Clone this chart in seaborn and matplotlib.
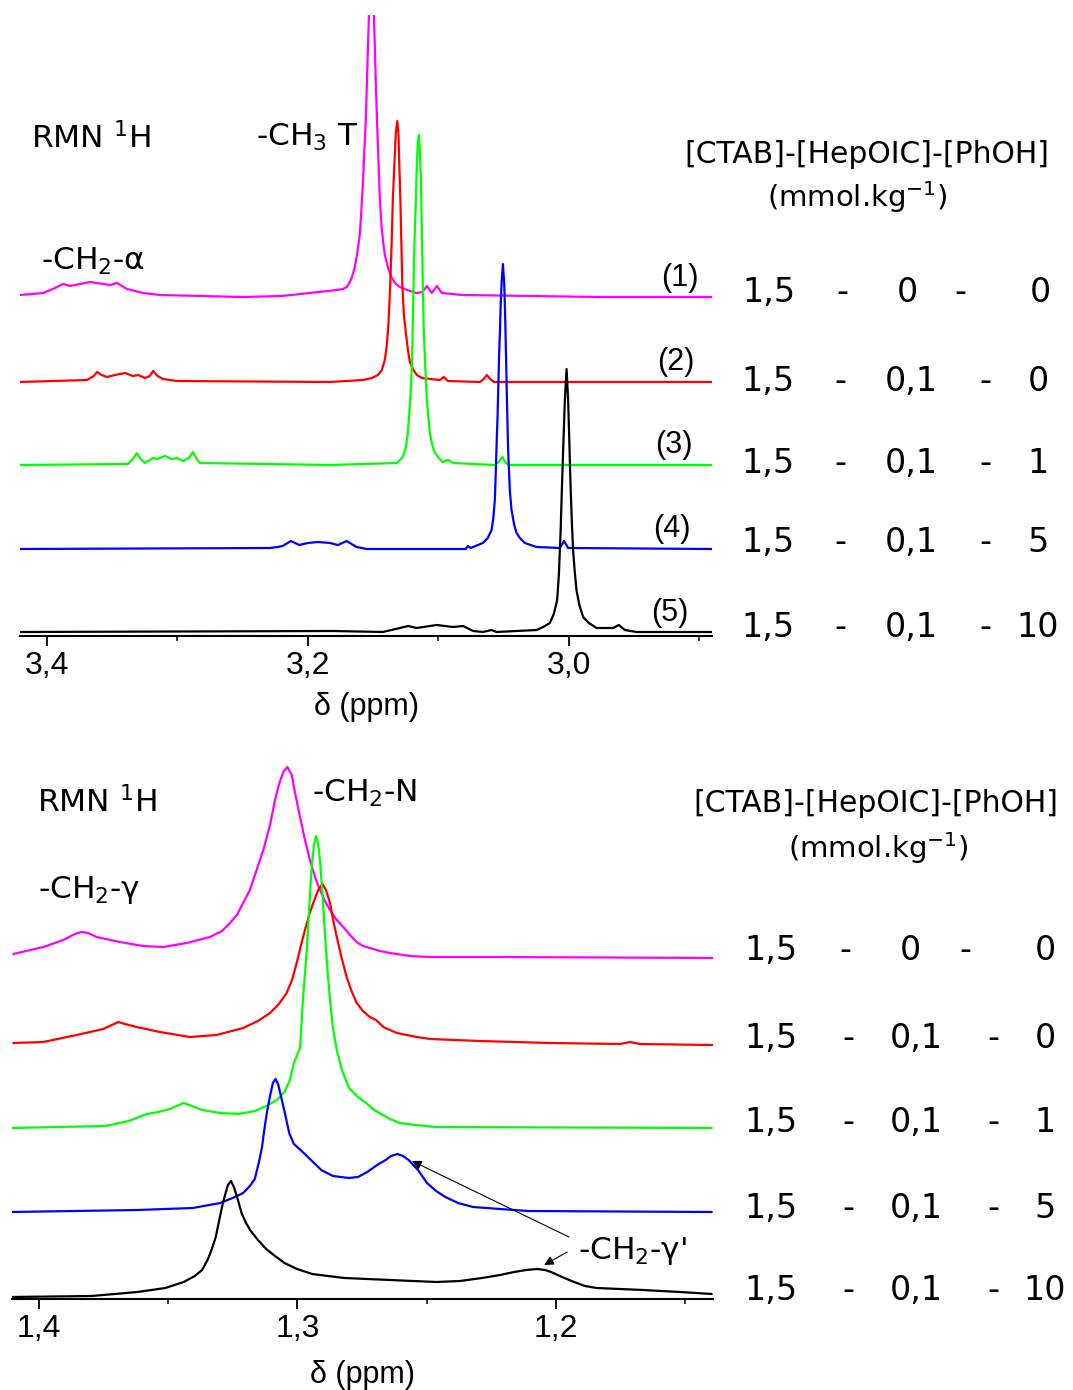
import matplotlib
matplotlib.use("Agg")
import matplotlib.pyplot as plt
import seaborn as sns
import pandas as pd

# sample description (right-hand table)
sample_ids = ["(1)", "(2)", "(3)", "(4)", "(5)"]
ctab = ["1,5", "1,5", "1,5", "1,5", "1,5"]
hepoic = ["0", "0,1", "0,1", "0,1", "0,1"]
phoh = ["0", "0", "1", "5", "10"]
colors = ["#ff00ff", "#ff0000", "#00ff00", "#0000ff", "#000000"]

# ---- top panel: -CH3 T and -CH2-alpha region (ppm / intensity) ----
t1_ppm = [3.4205, 3.4028, 3.3952, 3.3875, 3.3821, 3.3668, 3.3515, 3.3461, 3.3385, 3.3262, 3.3132,
          3.2496, 3.2200, 3.1983, 3.1776, 3.1730, 3.1699, 3.1668, 3.1653, 3.1638, 3.1622, 3.1611,
          3.1599, 3.1588, 3.1576, 3.1565, 3.1553, 3.1546, 3.1538, 3.1530, 3.1519, 3.1503, 3.1492,
          3.1484, 3.1477, 3.1469, 3.1457, 3.1446, 3.1434, 3.1423, 3.1408, 3.1385, 3.1362, 3.1331,
          3.1293, 3.1239, 3.1163, 3.1120, 3.1086, 3.1048, 3.1009, 3.0971, 3.0810, 2.9760, 2.8900]
t1_int = [2, 4, 8, 13, 11, 15, 12, 14, 8, 4, 2,
          0, 1, 4, 7, 8, 10, 17, 23, 30, 42, 52,
          64, 87, 114, 147, 180, 212, 247, 282, 300, 300, 282,
          247, 212, 180, 137, 97, 72, 57, 42, 30, 21, 14,
          10, 7, 4, 5, 11, 4, 11, 4, 2, 0, 0]

t2_ppm = [3.4205, 3.3691, 3.3640, 3.3614, 3.3580, 3.3538, 3.3477, 3.3400, 3.3339, 3.3300, 3.3247,
          3.3210, 3.3185, 3.3150, 3.3109, 3.3001, 3.1829, 3.1576, 3.1507, 3.1461, 3.1431, 3.1408,
          3.1393, 3.1381, 3.1370, 3.1362, 3.1354, 3.1347, 3.1335, 3.1324, 3.1313, 3.1304, 3.1297,
          3.1289, 3.1281, 3.1274, 3.1262, 3.1247, 3.1231, 3.1216, 3.1193, 3.1163, 3.1125, 3.1063,
          3.0985, 3.0956, 3.0925, 3.0680, 3.0650, 3.0626, 3.0600, 3.0572, 2.8900]
t2_int = [0, 2, 6, 10, 7, 5, 7, 9, 6, 7, 4,
          6, 11, 6, 3, 1, 0, 2, 4, 7, 12, 22,
          37, 57, 87, 115, 147, 182, 217, 249, 261, 249, 217,
          182, 137, 97, 67, 49, 32, 20, 13, 7, 4, 3,
          2, 5, 1, 0, 3, 7, 3, 0, 0]

t3_ppm = [3.4205, 3.3377, 3.3340, 3.3310, 3.3280, 3.3247, 3.3185, 3.3155, 3.3093, 3.3040, 3.3001,
          3.2956, 3.2910, 3.2879, 3.2850, 3.2825, 3.1829, 3.1316, 3.1270, 3.1247, 3.1232, 3.1216,
          3.1209, 3.1201, 3.1193, 3.1186, 3.1178, 3.1170, 3.1163, 3.1155, 3.1147, 3.1140, 3.1132,
          3.1124, 3.1117, 3.1109, 3.1097, 3.1086, 3.1074, 3.1063, 3.1044, 3.1025, 3.0994, 3.0964,
          3.0925, 3.0887, 3.0566, 3.0535, 3.0506, 3.0481, 3.0450, 2.8900]
t3_int = [0, 1, 6, 12, 6, 2, 7, 6, 9, 6, 7,
          4, 7, 13, 6, 2, 0, 2, 8, 17, 32, 60,
          75, 98, 145, 198, 235, 265, 300, 323, 330, 315, 285,
          232, 180, 132, 95, 65, 47, 32, 20, 12, 7, 3,
          5, 2, 0, 3, 8, 2, 0, 0]

t4_ppm = [3.4205, 3.2289, 3.2230, 3.2192, 3.2128, 3.2064, 3.1998, 3.1921, 3.1829, 3.1768, 3.1701,
          3.1625, 3.1548, 3.0788, 3.0772, 3.0749, 3.0657, 3.0619, 3.0590, 3.0576, 3.0565, 3.0557,
          3.0549, 3.0544, 3.0538, 3.0532, 3.0526, 3.0520, 3.0513, 3.0503, 3.0493, 3.0486, 3.0480,
          3.0472, 3.0463, 3.0450, 3.0437, 3.0416, 3.0398, 3.0373, 3.0335, 3.0245, 3.0067, 3.0034,
          3.0003, 2.8900]
t4_int = [0, 1, 2, 3, 8, 4, 6, 7, 6, 4, 8,
          2, 0, 0, 3, 1, 6, 11, 19, 31, 49, 79,
          114, 132, 164, 194, 216, 244, 266, 285, 266, 234, 199,
          149, 99, 59, 39, 24, 16, 11, 6, 2, 1, 8,
          1, 0]

t5_ppm = [3.4205, 3.1806, 3.1423, 3.1293, 3.1229, 3.1165, 3.1011, 3.0887, 3.0808, 3.0731, 3.0657,
          3.0590, 3.0552, 3.0245, 3.0194, 3.0143, 3.0113, 3.0087, 3.0074, 3.0061, 3.0051, 3.0041,
          3.0028, 3.0015, 3.0003, 2.9994, 2.9985, 2.9975, 2.9965, 2.9952, 2.9939, 2.9917, 2.9888,
          2.9844, 2.9785, 2.9658, 2.9614, 2.9568, 2.9479, 2.8900]
t5_int = [0, 1, 0, 4, 6, 4, 7, 5, 6, 1, 0,
          2, 0, 2, 5, 9, 18, 32, 57, 99, 142, 182,
          232, 263, 232, 192, 149, 112, 82, 60, 42, 27, 15,
          9, 4, 4, 7, 2, 0, 0]

# ---- bottom panel: -CH2-N and -CH2-gamma region ----
b1_ppm = [1.4099, 1.3983, 1.3906, 1.3861, 1.3835, 1.3810, 1.3777, 1.3687, 1.3597, 1.3519, 1.3429,
          1.3338, 1.3292, 1.3261, 1.3234, 1.3210, 1.3184, 1.3158, 1.3132, 1.3106, 1.3087, 1.3072,
          1.3055, 1.3039, 1.3022, 1.3010, 1.2990, 1.2971, 1.2952, 1.2932, 1.2913, 1.2894, 1.2874,
          1.2851, 1.2823, 1.2797, 1.2771, 1.2747, 1.2720, 1.2681, 1.2642, 1.2565, 1.2487, 1.2217,
          1.1393]
b1_int = [4, 11, 18, 24, 26, 25, 21, 16, 12, 11, 15,
          21, 27, 35, 43, 55, 68, 88, 108, 133, 158, 173,
          186, 191, 183, 166, 141, 118, 98, 81, 68, 57, 48,
          39, 31, 23, 16, 12, 10, 7, 5, 2, 1, 1,
          0]

b2_ppm = [1.4099, 1.3983, 1.3854, 1.3751, 1.3718, 1.3693, 1.3667, 1.3622, 1.3532, 1.3416, 1.3313,
          1.3210, 1.3153, 1.3106, 1.3072, 1.3042, 1.3021, 1.3003, 1.2986, 1.2971, 1.2955, 1.2939,
          1.2920, 1.2903, 1.2890, 1.2874, 1.2862, 1.2848, 1.2830, 1.2810, 1.2791, 1.2771, 1.2747,
          1.2720, 1.2696, 1.2668, 1.2616, 1.2539, 1.2487, 1.2294, 1.2023, 1.1752, 1.1714, 1.1675,
          1.1393]
b2_int = [2, 3, 10, 16, 20, 23, 21, 18, 13, 8, 10,
          17, 24, 32, 41, 52, 65, 82, 100, 115, 130, 142,
          155, 161, 155, 142, 125, 108, 88, 68, 54, 42, 34,
          28, 25, 18, 12, 8, 6, 4, 2, 1, 3, 1,
          0]

b3_ppm = [1.4106, 1.3742, 1.3653, 1.3583, 1.3538, 1.3493, 1.3440, 1.3408, 1.3369, 1.3300, 1.3227,
          1.3164, 1.3121, 1.3079, 1.3050, 1.3029, 1.3014, 1.2990, 1.2979, 1.2964, 1.2954, 1.2945,
          1.2936, 1.2928, 1.2921, 1.2913, 1.2903, 1.2894, 1.2884, 1.2874, 1.2863, 1.2848, 1.2828,
          1.2801, 1.2766, 1.2730, 1.2704, 1.2677, 1.2642, 1.2606, 1.2545, 1.2464, 1.1398]
b3_int = [0, 2, 7, 14, 16, 19, 25, 22, 18, 15, 14,
          17, 22, 28, 36, 48, 65, 80, 128, 178, 223, 261,
          283, 292, 286, 268, 233, 195, 158, 128, 100, 78, 58,
          40, 31, 24, 18, 14, 9, 5, 3, 1, 0]

b4_ppm = [1.4106, 1.3618, 1.3405, 1.3298, 1.3242, 1.3210, 1.3184, 1.3165, 1.3149, 1.3137, 1.3130,
          1.3118, 1.3103, 1.3095, 1.3085, 1.3075, 1.3064, 1.3048, 1.3032, 1.3014, 1.2988, 1.2952,
          1.2908, 1.2863, 1.2801, 1.2766, 1.2730, 1.2692, 1.2659, 1.2638, 1.2614, 1.2592, 1.2570,
          1.2534, 1.2499, 1.2464, 1.2428, 1.2379, 1.2321, 1.2217, 1.2108, 1.1398]
b4_int = [0, 2, 4, 9, 15, 19, 26, 33, 50, 65, 79,
          100, 120, 129, 133, 128, 116, 98, 79, 68, 62, 53,
          42, 36, 34, 35, 40, 47, 52, 56, 58, 56, 52,
          42, 29, 21, 15, 9, 5, 3, 1, 0]

b5_ppm = [1.4106, 1.3796, 1.3618, 1.3511, 1.3440, 1.3397, 1.3369, 1.3346, 1.3331, 1.3316, 1.3304,
          1.3292, 1.3280, 1.3269, 1.3257, 1.3246, 1.3236, 1.3227, 1.3215, 1.3199, 1.3183, 1.3153,
          1.3121, 1.3087, 1.3050, 1.3002, 1.2943, 1.2882, 1.2819, 1.2641, 1.2463, 1.2371, 1.2286,
          1.2217, 1.2162, 1.2116, 1.2073, 1.2043, 1.2019, 1.1977, 1.1930, 1.1888, 1.1842, 1.1753,
          1.1664, 1.1520, 1.1398]
b5_int = [0, 1, 5, 9, 15, 21, 27, 38, 48, 60, 75,
          90, 102, 112, 116, 110, 102, 94, 83, 74, 67, 57,
          48, 41, 34, 28, 23, 21, 19, 17, 15, 16, 19,
          22, 25, 27, 28, 27, 25, 20, 15, 11, 9, 8,
          7, 5, 3]

top_ppm = [t1_ppm, t2_ppm, t3_ppm, t4_ppm, t5_ppm]
top_int = [t1_int, t2_int, t3_int, t4_int, t5_int]
bot_ppm = [b1_ppm, b2_ppm, b3_ppm, b4_ppm, b5_ppm]
bot_int = [b1_int, b2_int, b3_int, b4_int, b5_int]

# vertical stacking of the spectra
top_offset = [339, 254, 171, 87, 4]
bot_offset = [341, 254, 171, 87, 2]

sns.set_theme(style="white")
plt.rcParams["font.family"] = ["DejaVu Sans"]
plt.rcParams["mathtext.fontset"] = "dejavusans"
plt.rcParams["text.color"] = "black"
plt.rcParams["xtick.color"] = "black"
plt.rcParams["xtick.labelcolor"] = "black"
plt.rcParams["axes.labelcolor"] = "black"

W, H = 1073, 1390
fig = plt.figure(figsize=(W / 100, H / 100), dpi=100)


def fx(px):
    return px / W


def fy(py):
    return 1 - py / H


ax1 = fig.add_axes([fx(20), fy(636), fx(712) - fx(20), fy(15) - fy(636)])
ax2 = fig.add_axes([fx(12), fy(1299), fx(713) - fx(12), fy(740) - fy(1299)])

for ax, xs, ys, offs in [(ax1, top_ppm, top_int, top_offset), (ax2, bot_ppm, bot_int, bot_offset)]:
    for i in range(5):
        df = pd.DataFrame({"ppm": xs[i], "y": [v + offs[i] for v in ys[i]]})
        sns.lineplot(data=df, x="ppm", y="y", ax=ax, color=colors[i], lw=1.6,
                     sort=False, estimator=None)

ax1.set_xlim(3.4205, 2.890)
ax1.set_ylim(0, 621)
ax2.set_xlim(1.4104, 1.1393)
ax2.set_ylim(0, 559)

tick_font = "Liberation Sans"
for ax, major, minor, labels, lpad in [(ax1, [3.4, 3.2, 3.0], [3.3, 3.1, 2.9], ["3,4", "3,2", "3,0"], 8),
                                       (ax2, [1.4, 1.3, 1.2], [1.35, 1.25, 1.15], ["1,4", "1,3", "1,2"], 11)]:
    for s in ["left", "right", "top"]:
        ax.spines[s].set_visible(False)
    ax.spines["bottom"].set_linewidth(1.5)
    ax.spines["bottom"].set_color("black")
    ax.set_xticks(major)
    ax.set_xticklabels(labels, fontfamily=tick_font, fontsize=23)
    ax.set_xticks(minor, minor=True)
    ax.set_yticks([])
    ax.tick_params(axis="x", which="major", direction="out", length=7, width=1.3,
                   color="black", pad=4, bottom=True)
    ax.tick_params(axis="x", which="minor", direction="out", length=3.5, width=1.1,
                   color="black", bottom=True)
    ax.set_xlabel("δ (ppm)", fontfamily=tick_font, fontsize=22, labelpad=lpad)
    ax.set_ylabel("")
    ax.patch.set_alpha(0)

# left annotations
lab = dict(fontsize=22.5, color="black", va="baseline", ha="left")
fig.text(fx(31), fy(148), r"RMN $^{\mathregular{1}}$H", **lab)
fig.text(fx(256), fy(146), r"-CH$_{\mathregular{3}}$ T", **lab)
fig.text(fx(41), fy(270), r"-CH$_{\mathregular{2}}$-α", **lab)
fig.text(fx(37), fy(812), r"RMN $^{\mathregular{1}}$H", **lab)
fig.text(fx(38), fy(898), r"-CH$_{\mathregular{2}}$-γ", **lab)
fig.text(fx(312), fy(802), r"-CH$_{\mathregular{2}}$-N", **lab)
fig.text(fx(578), fy(1259), r"-CH$_{\mathregular{2}}$-γ'", **lab)

# arrows to the -CH2-gamma' peaks
arrow = dict(arrowstyle="-|>", color="black", lw=0.8, mutation_scale=14, shrinkA=0, shrinkB=0)
ax2.annotate("", xy=(1.2557, 138), xytext=(1.1950, 62), arrowprops=arrow)
ax2.annotate("", xy=(1.2046, 34), xytext=(1.1957, 47), arrowprops=arrow)

# sample numbers on the top panel
id_x = [680, 676, 674, 672, 670]
id_y = [286, 370, 453, 537, 621]
for i in range(5):
    fig.text(fx(id_x[i]), fy(id_y[i]), sample_ids[i], fontfamily=tick_font, fontsize=22,
             ha="center", va="baseline")


def table(header_y, unit_y, header_x, unit_x, rows_y, first_cols, other_cols):
    fig.text(fx(header_x), fy(header_y), "[CTAB]-[HepOIC]-[PhOH]", fontsize=21.5,
             ha="center", va="baseline")
    fig.text(fx(unit_x), fy(unit_y), r"(mmol.kg$^{\mathregular{-1}}$)", fontsize=21,
             ha="center", va="baseline")
    for i in range(5):
        cols = first_cols if i == 0 else other_cols
        vals = [ctab[i], "-", hepoic[i], "-", phoh[i]]
        for cx, v in zip(cols, vals):
            fig.text(fx(cx), fy(rows_y[i]), v, fontsize=24, ha="center", va="baseline")


table(163, 207, 867, 857, [302, 391, 473, 552, 637],
      [769, 842, 907, 960, 1040], [768, 840, 911, 985, 1038])
table(812, 858, 876, 878, [960, 1048, 1132, 1218, 1300],
      [771, 845, 910, 965, 1045], [771, 848, 916, 993, 1045])

fig.savefig("out.png", dpi=100, facecolor="white")
